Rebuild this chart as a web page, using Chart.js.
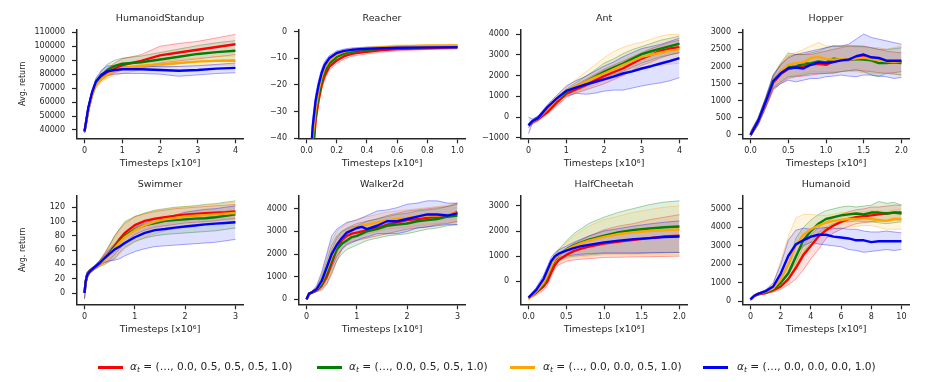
<!DOCTYPE html>
<html><head><meta charset="utf-8">
<script src="https://cdn.jsdelivr.net/npm/chart.js@4/dist/chart.umd.min.js"></script>
<style>
html,body{margin:0;padding:0;background:#fff;width:926px;height:382px;overflow:hidden;position:relative;font-family:"DejaVu Sans",sans-serif;}
canvas{position:absolute;}
.lline{position:absolute;height:2.5px;width:25px;}
.ltext{position:absolute;font-size:10.6px;color:#262626;white-space:nowrap;line-height:12px;}
.ltext sub{font-size:7.5px;vertical-align:-2px;}
</style></head><body>
<script>
// ---------- series labels ----------
const seriesNames = ['(…, 0.0, 0.5, 0.5, 0.5, 1.0)', '(…, 0.0, 0.5, 0.5, 1.0)', '(…, 0.0, 0.0, 0.5, 1.0)', '(…, 0.0, 0.0, 0.0, 1.0)'];
const envTitles = ['HumanoidStandup','Reacher','Ant','Hopper','Swimmer','Walker2d','HalfCheetah','Humanoid'];

// ---------- HumanoidStandup ----------
const hsX = [0, 0.1, 0.2, 0.3, 0.45, 0.6, 0.8, 1, 1.5, 2, 2.5, 3, 3.5, 4];
const hsRed = [39000, 55000, 66000, 73000, 78000, 81000, 84000, 86500, 89500, 93500, 95500, 97500, 99500, 101400];
const hsGreen = [39000, 55000, 66000, 73500, 79000, 83000, 86000, 87500, 88500, 90500, 92500, 94500, 95800, 96800];
const hsOrange = [39000, 54000, 65000, 72000, 76500, 79500, 82500, 84500, 86000, 87000, 88000, 89000, 89500, 89500];
const hsBlue = [39000, 56000, 67000, 74500, 79500, 82000, 83000, 83500, 83500, 83000, 82500, 83000, 84000, 84500];
const hsRedHi = [40000, 57000, 68000, 75000, 80500, 84000, 88000, 91000, 94000, 100000, 102000, 103500, 106000, 108500];
const hsRedLo = [38000, 53000, 64000, 71000, 75500, 78500, 81000, 83000, 85500, 88000, 89500, 91000, 92500, 94000];
const hsGreenHi = [40000, 57000, 68000, 76000, 82000, 87000, 90000, 91500, 93000, 95500, 98000, 100500, 102500, 104000];
const hsGreenLo = [38000, 53000, 64000, 71500, 76500, 79500, 82000, 83500, 84500, 86000, 87500, 89000, 90000, 90500];
const hsOrangeHi = [40000, 56000, 67000, 74000, 79000, 82500, 85500, 87500, 89000, 89500, 90500, 91500, 92500, 93000];
const hsOrangeLo = [38000, 52000, 63000, 70000, 74500, 77000, 79000, 80500, 83000, 84500, 85500, 86500, 86500, 86500];
const hsBlueHi = [40000, 58000, 69000, 77000, 83000, 86000, 86000, 85500, 85500, 85500, 85500, 86000, 87000, 88000];
const hsBlueLo = [38000, 54000, 65000, 72000, 77000, 79000, 80000, 80500, 80500, 80000, 78500, 79500, 80500, 81000];
const hsYTicks = [40000, 50000, 60000, 70000, 80000, 90000, 100000, 110000];
const hsXTicks = [0, 1, 2, 3, 4];

// ---------- Reacher ----------
const reX = [0.02, 0.04, 0.06, 0.08, 0.1, 0.12, 0.15, 0.2, 0.25, 0.3, 0.4, 0.5, 0.6, 0.8, 1.0];
const reRed = [-65, -48, -33, -25.5, -20, -16.5, -13.2, -10.8, -9.2, -8.3, -7.5, -6.9, -6.5, -6.1, -5.8];
const reGreen = [-62, -44, -31, -24, -18.5, -15, -12, -9.5, -8.2, -7.5, -6.8, -6.4, -6.1, -5.8, -5.6];
const reOrange = [-60, -40, -29, -22, -17, -13.5, -10.8, -8.5, -7.5, -6.9, -6.3, -5.9, -5.6, -5.3, -5.2];
const reBlue = [-55, -36, -26, -20, -15.5, -12.5, -10, -8, -7.2, -6.8, -6.4, -6.2, -6.0, -5.9, -5.8];
const reRedHi = [-62, -45, -30.5, -23.5, -18.2, -15, -12, -9.6, -8.2, -7.4, -6.7, -6.2, -5.8, -5.5, -5.2];
const reRedLo = [-68, -51, -35.5, -27.5, -21.8, -18, -14.4, -12, -10.2, -9.2, -8.3, -7.6, -7.2, -6.7, -6.4];
const reGreenHi = [-59, -41, -28.5, -22, -17, -13.7, -11, -8.6, -7.4, -6.8, -6.2, -5.8, -5.5, -5.2, -5.0];
const reGreenLo = [-65, -47, -33.5, -26, -20, -16.3, -13, -10.4, -9.0, -8.2, -7.4, -7.0, -6.7, -6.4, -6.2];
const reOrangeHi = [-57, -37, -26.5, -20, -15.5, -12.3, -9.8, -7.7, -6.8, -6.3, -5.7, -5.3, -5.0, -4.8, -4.7];
const reOrangeLo = [-63, -43, -31.5, -24, -18.5, -14.7, -11.8, -9.3, -8.2, -7.5, -6.9, -6.5, -6.2, -5.8, -5.7];
const reBlueHi = [-52, -33, -23.5, -18, -14, -11.2, -9, -7.2, -6.5, -6.1, -5.8, -5.6, -5.4, -5.3, -5.2];
const reBlueLo = [-58, -39, -28.5, -22, -17, -13.8, -11, -8.8, -7.9, -7.5, -7.0, -6.8, -6.6, -6.5, -6.4];
const reYTicks = [-40, -30, -20, -10, 0];
const reXTicks = [0, 0.2, 0.4, 0.6, 0.8, 1.0];

// ---------- Ant ----------
const antX = [0, 0.1, 0.25, 0.5, 0.75, 1, 1.25, 1.5, 1.75, 2, 2.25, 2.5, 2.75, 3, 3.25, 3.5, 3.75, 4];
const antRed = [-400, -250, -100, 240, 700, 1130, 1330, 1530, 1760, 1970, 2160, 2340, 2580, 2820, 3000, 3190, 3300, 3370];
const antGreen = [-400, -220, -60, 380, 830, 1210, 1450, 1690, 1940, 2180, 2380, 2580, 2800, 3030, 3170, 3300, 3420, 3530];
const antOrange = [-400, -220, -60, 400, 860, 1260, 1480, 1690, 1900, 2100, 2300, 2500, 2700, 2900, 3000, 3100, 3200, 3260];
const antBlue = [-400, -200, -50, 480, 900, 1260, 1420, 1560, 1690, 1820, 1950, 2100, 2200, 2340, 2450, 2580, 2700, 2840];
const antRedHi = [-300, -150, 0, 350, 850, 1300, 1550, 1800, 2050, 2300, 2500, 2700, 2900, 3100, 3300, 3450, 3600, 3700];
const antRedLo = [-500, -350, -200, 150, 550, 950, 1150, 1300, 1450, 1600, 1800, 2000, 2250, 2500, 2650, 2850, 3000, 3100];
const antGreenHi = [-300, -120, 50, 500, 950, 1350, 1650, 1950, 2250, 2600, 2800, 3050, 3250, 3400, 3550, 3700, 3800, 3900];
const antGreenLo = [-500, -300, -150, 250, 700, 1050, 1250, 1450, 1650, 1850, 2050, 2200, 2400, 2600, 2750, 2900, 3000, 3100];
const antOrangeHi = [-300, -120, 50, 550, 1000, 1450, 1800, 2150, 2500, 2850, 3150, 3350, 3500, 3600, 3750, 3900, 3980, 3980];
const antOrangeLo = [-500, -300, -150, 250, 700, 1050, 1200, 1350, 1550, 1750, 1900, 2050, 2200, 2350, 2450, 2500, 2550, 2600];
const antBlueHi = [0, -100, 50, 600, 1050, 1500, 1750, 1950, 2200, 2450, 2650, 2900, 3100, 3300, 3400, 3500, 3650, 3800];
const antBlueLo = [-800, -300, -150, 350, 750, 1000, 1150, 1100, 1150, 1250, 1300, 1300, 1400, 1500, 1580, 1650, 1750, 1900];
const antYTicks = [-1000, 0, 1000, 2000, 3000, 4000];
const antXTicks = [0, 1, 2, 3, 4];

// ---------- Hopper ----------
const hoX = [0, 0.1, 0.2, 0.3, 0.4, 0.5, 0.6, 0.7, 0.8, 0.9, 1.0, 1.1, 1.2, 1.3, 1.4, 1.5, 1.6, 1.7, 1.8, 1.9, 2.0];
const hoRed = [0, 380, 920, 1520, 1780, 1930, 1970, 2000, 2060, 2080, 2050, 2150, 2190, 2190, 2240, 2280, 2200, 2220, 2120, 2130, 2130];
const hoGreen = [0, 400, 970, 1580, 1830, 1980, 2000, 2080, 2100, 2150, 2120, 2230, 2200, 2210, 2220, 2200, 2180, 2100, 2100, 2120, 2100];
const hoOrange = [0, 390, 940, 1540, 1850, 2050, 2100, 2120, 2250, 2280, 2220, 2200, 2210, 2200, 2240, 2260, 2220, 2180, 2150, 2140, 2150];
const hoBlue = [0, 400, 960, 1560, 1800, 1950, 1970, 1940, 2050, 2120, 2100, 2130, 2180, 2200, 2300, 2350, 2270, 2250, 2170, 2170, 2170];
const hoRedHi = [80, 480, 1050, 1700, 2050, 2300, 2350, 2350, 2350, 2400, 2450, 2500, 2550, 2600, 2600, 2600, 2550, 2500, 2450, 2420, 2400];
const hoRedLo = [-50, 280, 780, 1300, 1500, 1650, 1700, 1720, 1750, 1780, 1800, 1820, 1850, 1880, 1900, 1870, 1850, 1820, 1800, 1820, 1850];
const hoGreenHi = [80, 490, 1080, 1750, 2100, 2400, 2350, 2350, 2400, 2450, 2550, 2600, 2600, 2600, 2600, 2580, 2550, 2500, 2500, 2520, 2550];
const hoGreenLo = [-50, 300, 820, 1380, 1550, 1700, 1720, 1750, 1800, 1800, 1800, 1800, 1850, 1880, 1900, 1850, 1750, 1700, 1800, 1780, 1750];
const hoOrangeHi = [80, 480, 1050, 1700, 2100, 2350, 2400, 2500, 2600, 2700, 2600, 2600, 2600, 2600, 2550, 2550, 2550, 2550, 2500, 2550, 2600];
const hoOrangeLo = [-50, 290, 800, 1350, 1550, 1700, 1750, 1800, 1850, 1850, 1850, 1850, 1850, 1850, 1850, 1820, 1800, 1800, 1800, 1780, 1750];
const hoBlueHi = [100, 500, 1100, 1750, 2050, 2250, 2350, 2400, 2450, 2500, 2550, 2600, 2600, 2650, 2800, 2950, 2850, 2800, 2750, 2700, 2650];
const hoBlueLo = [-50, 300, 800, 1350, 1500, 1600, 1550, 1600, 1650, 1650, 1700, 1720, 1750, 1720, 1700, 1750, 1750, 1720, 1700, 1650, 1680];
const hoYTicks = [0, 500, 1000, 1500, 2000, 2500, 3000];
const hoXTicks = [0, 0.5, 1.0, 1.5, 2.0];

// ---------- Swimmer ----------
const swX = [0, 0.02, 0.05, 0.1, 0.2, 0.3, 0.4, 0.5, 0.6, 0.7, 0.8, 1.0, 1.2, 1.4, 1.6, 1.8, 2.0, 2.2, 2.4, 2.6, 2.8, 3.0];
const swRed = [0, 15, 25, 30, 35, 41, 48, 57, 66, 76, 84, 95, 101, 104, 106, 108, 109.5, 110.5, 111.5, 112.5, 113, 114];
const swGreen = [0, 15, 25, 30, 35, 41, 48, 56, 65, 73, 80, 89, 95, 98, 101, 102, 103, 104, 104.5, 106, 108, 110];
const swOrange = [0, 15, 25, 30, 35, 41, 47, 55, 63, 71, 78, 88, 95, 100, 103, 105, 107, 108, 109, 110, 111, 112];
const swBlue = [0, 15, 25, 30, 36, 42, 49, 55, 61, 65, 70, 78, 84, 88, 89.5, 91.5, 93, 94.5, 96, 97, 98, 99];
const swRedHi = [5, 20, 29, 33, 38, 45, 55, 67, 80, 90, 97, 107, 111, 114, 116, 118, 119, 120, 121, 122, 123, 124];
const swRedLo = [-8, 8, 20, 27, 33, 38, 42, 46, 54, 62, 70, 82, 88, 92, 94, 96, 98, 99, 100, 101, 103, 104];
const swGreenHi = [5, 20, 29, 33, 38, 46, 56, 68, 80, 90, 100, 107, 112, 116, 118, 120, 121, 122, 124, 125, 127, 129];
const swGreenLo = [-8, 8, 20, 27, 33, 37, 40, 44, 48, 57, 64, 72, 77, 80, 82, 83, 84, 85, 86, 87, 89, 91];
const swOrangeHi = [5, 20, 29, 33, 38, 45, 55, 66, 77, 88, 98, 106, 111, 115, 117, 119, 121, 122, 123, 124, 126, 127];
const swOrangeLo = [-8, 8, 20, 27, 33, 37, 40, 44, 49, 55, 62, 72, 78, 83, 87, 90, 92, 94, 95, 97, 99, 100];
const swBlueHi = [5, 20, 29, 33, 38, 45, 53, 62, 69, 75, 80, 92, 98, 103, 106, 109, 113, 115, 117, 118, 120, 122];
const swBlueLo = [-8, 8, 20, 27, 35, 40, 43, 45, 46, 48, 52, 58, 62, 65, 66, 67, 68, 69, 70, 71, 73, 75];
const swYTicks = [0, 20, 40, 60, 80, 100, 120];
const swXTicks = [0, 1, 2, 3];

// ---------- Walker2d ----------
const waX = [0, 0.05, 0.1, 0.2, 0.3, 0.4, 0.5, 0.6, 0.7, 0.8, 0.9, 1.0, 1.1, 1.2, 1.4, 1.6, 1.8, 2.0, 2.2, 2.4, 2.6, 2.8, 3.0];
const waRed = [0, 250, 300, 400, 600, 1000, 1600, 2200, 2600, 2800, 2900, 2950, 3000, 3050, 3150, 3300, 3400, 3500, 3550, 3600, 3650, 3700, 3850];
const waGreen = [0, 250, 300, 420, 650, 1150, 1750, 2200, 2450, 2600, 2750, 2800, 2900, 3000, 3100, 3250, 3300, 3350, 3450, 3500, 3550, 3650, 3700];
const waOrange = [0, 250, 300, 440, 750, 1300, 1900, 2400, 2700, 2950, 3100, 3200, 3250, 3300, 3400, 3500, 3550, 3600, 3650, 3700, 3700, 3750, 3800];
const waBlue = [0, 250, 300, 450, 800, 1400, 2000, 2400, 2700, 2950, 3050, 3150, 3200, 3100, 3250, 3450, 3450, 3550, 3650, 3750, 3750, 3700, 3800];
const waRedHi = [0, 280, 340, 500, 900, 1500, 2200, 2700, 3000, 3150, 3250, 3350, 3400, 3450, 3550, 3700, 3800, 3900, 3950, 4000, 4050, 4100, 4250];
const waRedLo = [0, 220, 260, 330, 400, 650, 1100, 1700, 2200, 2450, 2550, 2600, 2650, 2700, 2800, 2900, 3000, 3100, 3150, 3200, 3300, 3350, 3450];
const waGreenHi = [0, 280, 340, 520, 1000, 1700, 2400, 2800, 3000, 3100, 3200, 3250, 3350, 3450, 3550, 3650, 3750, 3800, 3900, 3950, 4000, 4100, 4200];
const waGreenLo = [0, 220, 260, 350, 450, 700, 1200, 1700, 2000, 2200, 2300, 2400, 2500, 2600, 2700, 2800, 2850, 2900, 3000, 3100, 3150, 3250, 3300];
const waOrangeHi = [0, 280, 340, 550, 1100, 1900, 2600, 3000, 3200, 3350, 3450, 3550, 3600, 3650, 3750, 3850, 3900, 3950, 4000, 4050, 4100, 4150, 4250];
const waOrangeLo = [0, 220, 260, 360, 500, 800, 1300, 1850, 2250, 2500, 2650, 2750, 2850, 2900, 3000, 3100, 3150, 3200, 3250, 3300, 3350, 3350, 3400];
const waBlueHi = [0, 280, 350, 600, 1200, 2000, 2800, 3100, 3250, 3400, 3450, 3500, 3600, 3700, 3900, 3950, 4050, 4200, 4250, 4350, 4350, 4250, 4250];
const waBlueLo = [0, 220, 250, 350, 550, 900, 1400, 1900, 2200, 2400, 2500, 2600, 2700, 2750, 2900, 2900, 2900, 3000, 3150, 3200, 3250, 3300, 3300];
const waYTicks = [0, 1000, 2000, 3000, 4000];
const waXTicks = [0, 1, 2, 3];

// ---------- HalfCheetah ----------
const hcX = [0, 0.1, 0.2, 0.25, 0.3, 0.35, 0.4, 0.5, 0.6, 0.7, 0.8, 1.0, 1.2, 1.4, 1.6, 1.8, 2.0];
const hcRed = [-650, -450, -200, 0, 350, 650, 850, 1050, 1200, 1300, 1380, 1500, 1580, 1650, 1720, 1780, 1810];
const hcGreen = [-650, -400, -100, 200, 550, 850, 1050, 1270, 1430, 1550, 1660, 1820, 1950, 2040, 2100, 2150, 2180];
const hcOrange = [-700, -400, -50, 250, 600, 900, 1050, 1250, 1400, 1520, 1620, 1770, 1880, 1950, 2000, 2030, 2060];
const hcBlue = [-650, -350, 100, 450, 800, 1000, 1100, 1220, 1320, 1400, 1450, 1550, 1620, 1680, 1720, 1760, 1780];
const hcRedHi = [-600, -350, -50, 150, 500, 800, 1000, 1300, 1500, 1650, 1800, 2050, 2200, 2300, 2450, 2550, 2650];
const hcRedLo = [-700, -550, -350, -150, 200, 500, 650, 800, 850, 880, 900, 950, 960, 970, 980, 990, 1000];
const hcGreenHi = [-600, -300, 50, 350, 750, 1050, 1250, 1600, 1900, 2100, 2300, 2550, 2750, 2900, 3050, 3150, 3200];
const hcGreenLo = [-700, -500, -250, 50, 350, 650, 850, 950, 1000, 1030, 1050, 1100, 1100, 1100, 1120, 1130, 1150];
const hcOrangeHi = [-650, -300, 100, 400, 800, 1100, 1300, 1550, 1800, 2000, 2200, 2450, 2600, 2750, 2850, 2950, 3000];
const hcOrangeLo = [-750, -500, -200, 100, 400, 650, 800, 900, 950, 980, 1000, 1050, 1050, 1050, 1050, 1050, 1050];
const hcBlueHi = [-600, -250, 250, 600, 950, 1150, 1250, 1400, 1550, 1680, 1800, 2000, 2100, 2200, 2280, 2350, 2400];
const hcBlueLo = [-700, -450, -50, 300, 650, 850, 950, 1000, 1050, 1080, 1100, 1130, 1130, 1130, 1140, 1150, 1150];
const hcYTicks = [0, 1000, 2000, 3000];
const hcXTicks = [0, 0.5, 1.0, 1.5, 2.0];

// ---------- Humanoid ----------
const huX = [0, 0.25, 0.5, 1, 1.5, 2, 2.5, 3, 3.5, 4, 4.5, 5, 5.5, 6, 6.5, 7, 7.5, 8, 8.5, 9, 9.5, 10];
const huRed = [100, 300, 380, 450, 600, 800, 1200, 1800, 2500, 3000, 3500, 3850, 4100, 4300, 4450, 4550, 4600, 4650, 4700, 4750, 4800, 4800];
const huGreen = [100, 300, 400, 500, 650, 1000, 1500, 2400, 3300, 3800, 4200, 4450, 4550, 4650, 4700, 4750, 4700, 4800, 4800, 4750, 4800, 4750];
const huOrange = [100, 300, 400, 520, 700, 1200, 2000, 3000, 3600, 3900, 4100, 4250, 4350, 4400, 4450, 4450, 4500, 4450, 4400, 4350, 4450, 4450];
const huBlue = [100, 300, 400, 550, 800, 1500, 2450, 3080, 3300, 3500, 3600, 3600, 3500, 3450, 3400, 3300, 3300, 3200, 3250, 3250, 3250, 3250];
const huRedHi = [150, 350, 430, 520, 700, 1000, 1500, 2100, 3000, 3600, 4000, 4300, 4500, 4700, 4850, 4950, 5000, 5100, 5100, 5150, 5200, 5200];
const huRedLo = [50, 250, 330, 400, 500, 650, 900, 1200, 1700, 2300, 2800, 3400, 3700, 3900, 4050, 4200, 4250, 4300, 4350, 4350, 4400, 4400];
const huGreenHi = [150, 350, 450, 580, 800, 1300, 2000, 3400, 4000, 4400, 4700, 4900, 5000, 5100, 5150, 5100, 5150, 5200, 5400, 5300, 5350, 5200];
const huGreenLo = [50, 250, 350, 430, 520, 750, 1200, 1900, 2600, 3200, 3700, 4000, 4200, 4300, 4300, 4350, 4300, 4300, 4250, 4200, 4250, 4300];
const huOrangeHi = [150, 350, 450, 600, 900, 2200, 3500, 4500, 4700, 4700, 4650, 4650, 4700, 4800, 4800, 4800, 4850, 4900, 4900, 4850, 4950, 5000];
const huOrangeLo = [50, 250, 350, 450, 550, 700, 1100, 1900, 2700, 3400, 3600, 3800, 3900, 3950, 4000, 4050, 4100, 4100, 4000, 3900, 3900, 3900];
const huBlueHi = [150, 350, 450, 620, 1000, 2000, 3300, 3850, 3950, 3900, 3950, 4000, 3950, 3950, 3900, 3900, 3800, 3750, 3750, 3800, 3750, 3700];
const huBlueLo = [50, 250, 350, 480, 600, 1000, 1600, 2500, 3000, 3200, 3100, 3050, 3000, 2950, 2800, 2750, 2650, 2700, 2750, 2800, 2750, 2800];
const huYTicks = [0, 1000, 2000, 3000, 4000, 5000];
const huXTicks = [0, 2, 4, 6, 8, 10];

// ---------- styling / layout ----------
const RGB = ['255,0,0', '0,128,0', '255,165,0', '0,0,255'];
const TXT = '#262626';
const envs = [
  {x: hsX, m: [hsRed, hsGreen, hsOrange, hsBlue], lo: [hsRedLo, hsGreenLo, hsOrangeLo, hsBlueLo], hi: [hsRedHi, hsGreenHi, hsOrangeHi, hsBlueHi], yt: hsYTicks, xt: hsXTicks, xr: [-0.2, 4.2], yr: [34050, 112150], dec: 0},
  {x: reX, m: [reRed, reGreen, reOrange, reBlue], lo: [reRedLo, reGreenLo, reOrangeLo, reBlueLo], hi: [reRedHi, reGreenHi, reOrangeHi, reBlueHi], yt: reYTicks, xt: reXTicks, xr: [-0.05, 1.05], yr: [-40, 0.9], dec: 1},
  {x: antX, m: [antRed, antGreen, antOrange, antBlue], lo: [antRedLo, antGreenLo, antOrangeLo, antBlueLo], hi: [antRedHi, antGreenHi, antOrangeHi, antBlueHi], yt: antYTicks, xt: antXTicks, xr: [-0.2, 4.2], yr: [-1020, 4227], dec: 0},
  {x: hoX, m: [hoRed, hoGreen, hoOrange, hoBlue], lo: [hoRedLo, hoGreenLo, hoOrangeLo, hoBlueLo], hi: [hoRedHi, hoGreenHi, hoOrangeHi, hoBlueHi], yt: hoYTicks, xt: hoXTicks, xr: [-0.1, 2.1], yr: [-100, 3088], dec: 1},
  {x: swX, m: [swRed, swGreen, swOrange, swBlue], lo: [swRedLo, swGreenLo, swOrangeLo, swBlueLo], hi: [swRedHi, swGreenHi, swOrangeHi, swBlueHi], yt: swYTicks, xt: swXTicks, xr: [-0.15, 3.15], yr: [-15.8, 136.7], dec: 0},
  {x: waX, m: [waRed, waGreen, waOrange, waBlue], lo: [waRedLo, waGreenLo, waOrangeLo, waBlueLo], hi: [waRedHi, waGreenHi, waOrangeHi, waBlueHi], yt: waYTicks, xt: waXTicks, xr: [-0.15, 3.15], yr: [-219, 4595], dec: 0},
  {x: hcX, m: [hcRed, hcGreen, hcOrange, hcBlue], lo: [hcRedLo, hcGreenLo, hcOrangeLo, hcBlueLo], hi: [hcRedHi, hcGreenHi, hcOrangeHi, hcBlueHi], yt: hcYTicks, xt: hcXTicks, xr: [-0.1, 2.1], yr: [-912, 3420], dec: 1},
  {x: huX, m: [huRed, huGreen, huOrange, huBlue], lo: [huRedLo, huGreenLo, huOrangeLo, huBlueLo], hi: [huRedHi, huGreenHi, huOrangeHi, huBlueHi], yt: huYTicks, xt: huXTicks, xr: [-0.5, 10.5], yr: [-162, 5734], dec: 0}
];
const COL_LEFT = [1, 223, 445, 667];
const ROW_TOP = [0, 166];
const CW = 248, CH = 172;

function pts(xs, ys) { return xs.map((x, i) => ({x: x, y: ys[i]})); }
function fmt(v, dec) { const s = Math.abs(v).toFixed(dec); return v < 0 ? '\u2212' + s : s; }

envs.forEach((e, k) => {
  const c = document.createElement('canvas');
  c.width = CW; c.height = CH;
  c.style.left = COL_LEFT[k % 4] + 'px';
  c.style.top = ROW_TOP[Math.floor(k / 4)] + 'px';
  c.style.width = CW + 'px'; c.style.height = CH + 'px';
  document.body.appendChild(c);
  const ds = [];
  for (let s = 0; s < 4; s++) {
    ds.push({data: pts(e.x, e.m[s]), borderColor: 'rgb(' + RGB[s] + ')', borderWidth: 2.4, pointRadius: 0, fill: false, order: 4 - s, borderJoinStyle: 'round'});
  }
  for (let s = 0; s < 4; s++) {
    ds.push({data: pts(e.x, e.lo[s]), borderColor: 'rgba(' + RGB[s] + ',0.35)', borderWidth: 1, pointRadius: 0, fill: false, order: 20 - s});
    ds.push({data: pts(e.x, e.hi[s]), borderColor: 'rgba(' + RGB[s] + ',0.35)', borderWidth: 1, pointRadius: 0, fill: '-1', backgroundColor: 'rgba(' + RGB[s] + ',0.12)', order: 20 - s});
  }
  const axisCommon = {
    grid: {display: true, drawOnChartArea: false, drawTicks: true, tickLength: 5, tickWidth: 1.2, tickColor: TXT, color: TXT},
    border: {display: true, color: TXT, width: 1.5}
  };
  new Chart(c, {
    type: 'line',
    data: {datasets: ds},
    options: {
      responsive: false, animation: false, devicePixelRatio: 1, events: [],
      layout: {padding: {top: 0, left: 0, right: 6, bottom: 0}},
      plugins: {
        legend: {display: false}, tooltip: {enabled: false},
        title: {display: true, fullSize: false, text: envTitles[k], color: TXT, font: {family: 'DejaVu Sans', size: 9.5, weight: 'normal', lineHeight: 1.2}, padding: {top: 12.6, bottom: 5.3}}
      },
      scales: {
        x: Object.assign({}, axisCommon, {
          type: 'linear', min: e.xr[0], max: e.xr[1],
          afterBuildTicks: sc => { sc.ticks = e.xt.map(v => ({value: v})); },
          afterFit: sc => { sc.height = CH - 138.3; },
          ticks: {color: TXT, font: {family: 'DejaVu Sans', size: 8}, padding: 3, maxRotation: 0, autoSkip: false, callback: v => fmt(v, e.dec)},
          title: {display: true, text: 'Timesteps [x10\u2076]', color: TXT, font: {family: 'DejaVu Sans', size: 9.5, lineHeight: 1.2}, padding: {top: 0, bottom: 3}}
        }),
        y: Object.assign({}, axisCommon, {
          type: 'linear', min: e.yr[0], max: e.yr[1],
          afterBuildTicks: sc => { sc.ticks = e.yt.map(v => ({value: v})); },
          afterFit: sc => { sc.width = 76; },
          ticks: {color: TXT, font: {family: 'DejaVu Sans', size: 8}, padding: 7, autoSkip: false, callback: v => fmt(v, 0)},
          title: {display: k % 4 === 0, text: 'Avg. return', color: TXT, font: {family: 'DejaVu Sans', size: 8, lineHeight: 1.2}, padding: {top: 17.5, bottom: 0}}
        })
      }
    }
  });
});

// ---------- legend ----------
const LEG_LINE_X = [98, 317, 510, 703];
const LEG_TEXT_X = [130, 349, 543, 737];
seriesNames.forEach((name, s) => {
  const l = document.createElement('div');
  l.className = 'lline';
  l.style.left = LEG_LINE_X[s] + 'px'; l.style.top = '366px';
  l.style.background = 'rgb(' + RGB[s] + ')';
  document.body.appendChild(l);
  const t = document.createElement('div');
  t.className = 'ltext';
  t.style.left = LEG_TEXT_X[s] + 'px'; t.style.top = '360px';
  t.innerHTML = '<i>α</i><sub><i>t</i></sub> = ' + name;
  document.body.appendChild(t);
});
</script>
</body></html>
